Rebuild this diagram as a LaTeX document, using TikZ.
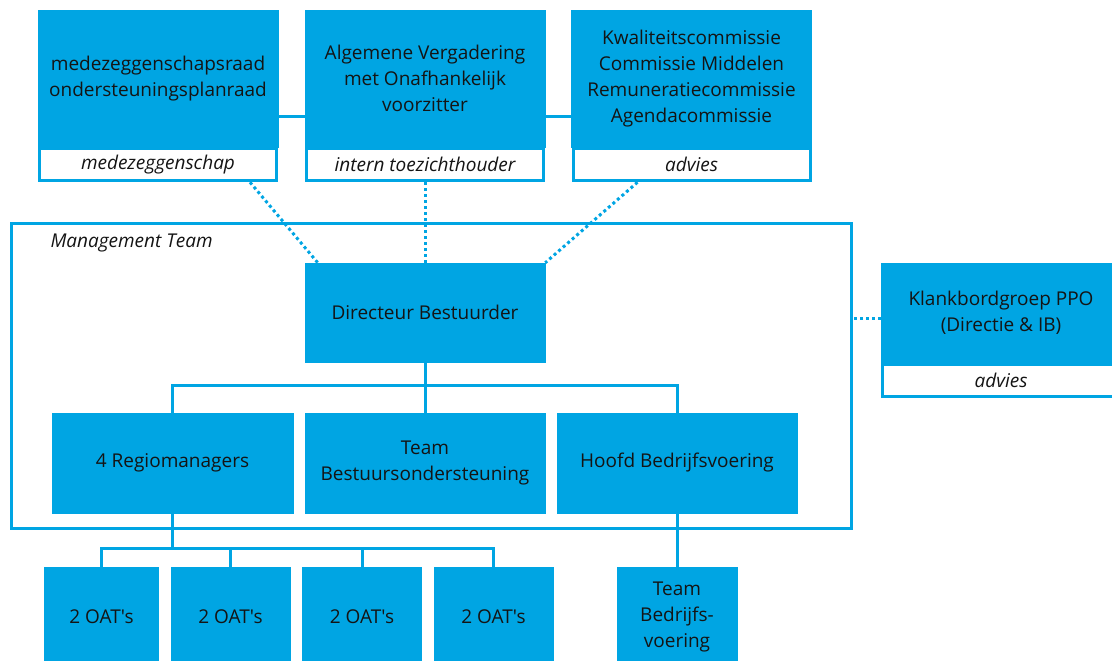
\documentclass[tikz,border=0pt]{standalone}
\usepackage{fontspec}
\setmainfont{Open Sans}[Ligatures=TeXOff]
\usepackage{tikz}
\usetikzlibrary{positioning,calc}
\definecolor{ppoblue}{RGB}{0,165,227}
\definecolor{ppotext}{RGB}{20,20,20}

\begin{document}
\begin{tikzpicture}[x=1pt,y=-1pt,
	every node/.style={font=\fontsize{19}{26}\selectfont, text=ppotext},
	unit/.style={rectangle, fill=ppoblue, draw=ppoblue, line width=0.5pt, align=center, inner sep=0pt, minimum width=240pt, minimum height=100pt},
	role/.style={rectangle, fill=white, draw=ppoblue, line width=3pt, inner sep=0pt, minimum width=237pt, minimum height=32pt, font=\fontsize{19}{26}\selectfont\itshape},
	orgline/.style={draw=ppoblue, line width=3pt},
	advline/.style={draw=ppoblue, line width=3pt, dash pattern=on 3pt off 3pt}]
    \useasboundingbox (0,0) rectangle (1112,661);
    \clip (0,0) rectangle (1112,661);

    % toezicht en advies
    \node[unit, minimum height=137pt] (mzr) at (158,78.5) {medezeggenschapsraad\\ondersteuningsplanraad};
    \node[unit, minimum height=137pt] (avv) at (425,78.5) {Algemene Vergadering\\met Onafhankelijk\\voorzitter};
    \node[unit, minimum height=137pt] (com) at (691.5,78.5) {Kwaliteitscommissie\\Commissie Middelen\\Remuneratiecommissie\\Agendacommissie};
    \node[role, below=0pt of mzr] (mzr-r) {medezeggenschap};
    \node[role, below=0pt of avv] (avv-r) {intern toezichthouder};
    \node[role, below=0pt of com] (com-r) {advies};
    \draw[orgline] ($(mzr.east)+(0,38)$) -- ($(avv.west)+(0,38)$);
    \draw[orgline] ($(avv.east)+(0,38)$) -- ($(com.west)+(0,38)$);

    % management team
    \node[rectangle, draw=ppoblue, line width=3pt, minimum width=840pt, minimum height=305pt] (mt) at (431.5,376) {};
    \node[anchor=west, font=\fontsize{19}{26}\selectfont\itshape] (mt-l) at ($(mt.north west)+(37,21)$) {Management Team};
    \node[unit, minimum height=99pt] (dir) at (425,312.5) {Directeur Bestuurder};
    \node[unit, minimum width=241pt] (reg) at (172.5,463) {4 Regiomanagers};
    \node[unit] (tbo) at (425,463) {Team\\Bestuursondersteuning};
    \node[unit] (hbv) at (677,463) {Hoofd Bedrijfsvoering};

    % klankbord
    \node[unit] (kbg) at (1001,313) {Klankbordgroep PPO\\(Directie \& IB)};
    \node[role, below=0pt of kbg] (kbg-r) {advies};

    % uitvoering
    \node[unit, minimum width=114pt] (oat1) at (101.5,617) {2 OAT's};
    \node[unit, minimum width=119pt, right=12pt of oat1] (oat2) {2 OAT's};
    \node[unit, minimum width=119pt, right=12pt of oat2] (oat3) {2 OAT's};
    \node[unit, minimum width=119pt, right=12pt of oat3] (oat4) {2 OAT's};
    \node[unit, minimum width=120pt] (tbv) at (677,617) {Team\\Bedrijfs-\\voering};

    \draw[orgline] (dir.south) -- (tbo.north);
    \draw[orgline] (dir.south) -- ++(0,23) -| (reg.north);
    \draw[orgline] (dir.south) -- ++(0,23) -| (hbv.north);
    \foreach \i in {1,...,4}
      \draw[orgline] (reg.south) -- ++(0,35) -| (oat\i.north);
    \draw[orgline] (hbv.south) -- (tbv.north);

    \draw[advline] ($(mzr-r.south)+(92,0)$) -- ($(dir.north west)+(13,0)$);
    \draw[advline] (avv-r.south) -- (dir.north);
    \draw[advline] ($(com-r.south)+(-54,0)$) -- (dir.north east);
    \draw[advline] ($(kbg.west)+(0,5)$) -- ($(kbg.west -| mt.east)+(0,5)$);

\end{tikzpicture}
\end{document}
